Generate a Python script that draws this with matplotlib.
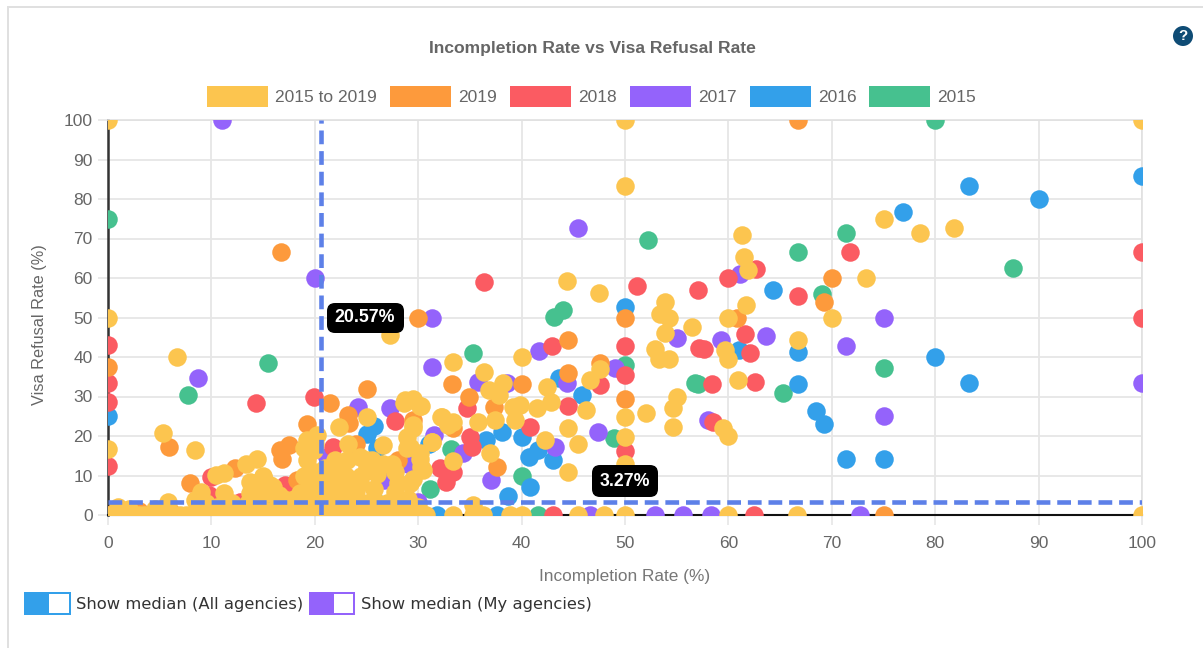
import matplotlib
matplotlib.use('Agg')
import matplotlib.pyplot as plt
from matplotlib.patches import Rectangle, Ellipse, FancyBboxPatch

plt.rcParams['font.family'] = ['Liberation Sans', 'DejaVu Sans']

W, H = 1203, 648

# (x, y) values
x_2015 = [0, 80, 87.5, 52.2, 71.4, 66.7, 69.1, 57.1, 65.3, 75, 7.7, 15.5, 44, 43.1, 35.3, 50, 48.9, 33.2, 40, 31.1,
          56.8, 15.2, 26, 19, 41.6]
y_2015 = [75, 100, 62.5, 69.6, 71.3, 66.6, 56, 33.1, 30.8, 37.3, 30.5, 38.4, 51.9, 50.2, 41, 37.9, 19.4, 16.8, 9.8,
          6.7, 33.3, 2.5, 3, 9.7, 0]

x_2016 = [100, 83.3, 90, 76.9, 64.3, 66.7, 61, 66.7, 80, 83.3, 68.5, 69.2, 71.4, 75, 50, 45.8, 43.6, 38.1, 40, 40.7,
          41.6, 43, 40.8, 38.7, 36.6, 25.7, 25, 0, 31.8, 37.6, 26, 31]
y_2016 = [85.7, 83.3, 80, 76.7, 56.9, 41.3, 41.7, 33.1, 40, 33.3, 26.3, 23, 14.3, 14.3, 52.7, 30.3, 34.6, 21.1, 19.8,
          14.7, 16.4, 13.9, 7.1, 4.9, 19, 22.5, 20.6, 25, 0, 0, 17, 18]

x_2017 = [11, 20, 45.5, 100, 75, 75, 61.1, 55, 59.3, 63.6, 71.4, 8.7, 31.3, 41.7, 31.3, 44.4, 49, 47.4, 43.2, 37, 30,
          34.3, 31.5, 38.6, 35.8, 24.2, 27.3, 58, 21.2, 26.7, 21.8, 46.6, 52.9, 55.6, 58.3, 72.7, 29]
y_2017 = [100, 60, 72.7, 33.3, 49.9, 25, 61, 44.8, 44.4, 45.3, 42.7, 34.6, 50, 41.6, 37.5, 33.3, 37.1, 21.1, 17.3,
          8.8, 3.3, 15.6, 20.2, 33.3, 33.7, 27.4, 27.2, 24, 14.7, 8.8, 3.8, 0, 0, 0, 0, 0, 13]

x_2018 = [0, 0, 0, 100, 100, 71.8, 62.7, 60, 51.2, 57.1, 66.7, 57.6, 61.6, 62.1, 58.4, 62.6, 50, 50, 47.6, 44.5, 36.4,
          42.9, 57.2, 40.8, 34.7, 35, 35.2, 50, 32.1, 33.4, 32.7, 14.3, 19.9, 27.8, 21.8, 17.1, 12.8, 10, 43, 62.5,
          0, 0, 58.5, 9.8]
y_2018 = [43, 33.3, 28.6, 66.7, 50, 66.6, 62.4, 59.9, 57.9, 56.9, 55.4, 42.1, 45.9, 41.1, 33.1, 33.7, 42.8, 35.4,
          32.9, 27.6, 59, 42.8, 42.3, 22.3, 27, 19.8, 17.3, 16.3, 11.8, 11, 8.4, 28.4, 30, 23.9, 17.3, 7.6, 3.4, 9.7,
          0, 0, 12.5, 0, 23.5, 5]

x_2019 = [0, 16.7, 66.7, 70, 69.2, 60.8, 30, 33.3, 34.9, 40, 44.5, 44.5, 50, 50, 37.6, 47.6, 33.4, 37.3, 29.5, 21.5,
          25, 23.2, 23.3, 5.9, 19.2, 16.6, 17.5, 16.8, 12.3, 7.9, 18.3, 75, 24, 3, 6, 28]
y_2019 = [37.5, 66.7, 100, 59.9, 53.8, 50, 50, 33.1, 30, 33.1, 44.3, 36, 49.8, 29.3, 12.2, 38.4, 21.9, 27.4, 24,
          28.4, 32, 25.3, 23.2, 17.3, 23, 16.4, 17.7, 14.3, 11.8, 8, 8.8, 0, 18, 1, 1, 14]

x_all = [0, 50, 100, 50, 75, 78.5, 81.8, 61.3, 61.5, 61.9, 73.3, 44.4, 47.5, 61.7, 53.9, 53.4, 54.3, 60, 70, 0, 27.3,
         56.5, 53.9, 66.7, 52.9, 59.7, 60, 53.3, 54.3, 6.7, 40, 33.4, 60.9, 36.4, 36.8, 38.2, 37.8, 39.2, 39.8, 39.4,
         41.5, 42.8, 42.5, 44.5, 46.2, 45.5, 44.5, 42.3, 37.4, 35.8, 36.9, 33.4, 33.4, 32.2, 29.2, 30.3, 29.5, 30.2,
         28.7, 29.5, 31.3, 30.2, 29.2, 47.6, 46.6, 50, 50, 52, 55, 54.6, 54.6, 59.5, 60, 50, 0, 5.3, 8.4, 22.3, 25,
         23.2, 26.6, 28.6, 29.5, 30.3, 32.3, 32.9, 29.5, 28.9, 28.9, 31.3, 30.2, 30.5, 29.2, 27.8, 27.8, 25.7, 26.6,
         24.4, 23.1, 25, 22.4, 22, 23.4, 24.4, 22.8, 26, 19.2, 19.2, 20.2, 19.9, 14.4, 13.3, 11.2, 10.4, 9, 8.4, 11.2,
         5.8, 13.7, 15, 15.7, 13.7, 15.4, 16.3, 18.6, 19.6, 24, 26, 23, 28, 30, 25, 21.5, 20.5,
         0, 1, 2, 3, 4, 5, 6, 7, 8, 9, 10, 11, 12, 13, 14, 15, 16, 17, 18, 19, 20, 21, 22, 23, 24, 25, 26, 27, 28,
         28.7, 30.8, 33.4, 35.3, 36.3, 38.9, 40, 45.5, 48, 50, 60, 66.6, 100, 2, 4.5, 35.3, 1,
         0.5, 1.5, 2.5, 3.5, 4.5, 5.5, 6.5, 7.5, 8.5, 9.5, 10.5, 11.5, 12.5, 13.5, 14.5, 15.5, 16.5, 17.5, 18.5, 19.5,
         20.5, 21.5, 22.5, 23.5, 24.5, 25.5, 26.5, 27.5, 28.5, 29.5,
         9.5, 10.5, 12, 13.5, 14.5, 16, 17, 18, 19, 20, 20, 19, 19, 20, 15, 14, 14.5, 17, 16.5, 18, 19.5, 20.5,
         23, 24, 25, 22, 27, 28, 21.5, 21.5, 23, 24.5, 25.5, 27.5, 21, 22, 29, 24, 29.5]
y_all = [100, 100, 100, 83.3, 74.9, 71.4, 72.7, 70.8, 65.4, 62, 59.9, 59.3, 56.2, 53.1, 54, 51, 50, 50, 50, 50, 45.5,
         47.6, 46, 44.4, 42.1, 41.7, 39.6, 39.6, 39.4, 39.9, 39.9, 38.8, 34.1, 36.3, 31.6, 33.3, 30.3, 27.4, 27.8, 24,
         27, 28.7, 32.5, 21.9, 26.5, 18.1, 10.8, 19.1, 24, 23.6, 15.6, 13.6, 23.6, 24.9, 8, 12.2, 29.1, 27.6, 29.1,
         21.9, 18.5, 15.6, 17.3, 37, 34.1, 24.9, 19.8, 25.7, 30, 27, 22.3, 22, 20, 13, 16.7, 20.8, 16.4, 22.2, 24.9,
         18, 17.7, 28.3, 29.3, 27.7, 24.9, 22.8, 22.8, 19.8, 16.9, 18.6, 14.3, 11.4, 8, 11, 5.9, 6.7, 13, 14.8, 13.9,
         12.2, 11.4, 8, 8.9, 8, 5.5, 10.5, 19, 13.9, 20.2, 16.4, 14.3, 13, 10.7, 10.1, 5.9, 3.8, 5.5, 3.3, 8.4, 9.7,
         7.6, 5.5, 5.5, 4.6, 5.5, 5.9, 4, 3, 3, 2, 2, 14, 10, 6,
         0, 0, 0, 0, 0, 0, 0, 0, 0, 0, 0, 0, 0, 0, 0, 0, 0, 0, 0, 0, 0, 0, 0, 0, 0, 0, 0, 0, 0,
         0, 0, 0, 0, 0, 0, 0, 0, 0, 0, 0, 0, 0, 1.5, 1.5, 2.5, 2,
         0, 0, 0, 0, 0, 0, 0, 0, 1, 1, 1, 1, 1, 1, 1, 1, 1, 1, 1, 1,
         1, 1, 1, 1, 1, 1, 1, 1, 1, 1,
         3, 2, 3, 3, 6, 7, 3, 2, 3, 8, 11, 10, 17, 18, 10, 8, 3, 4, 5, 4, 6, 4,
         10, 6, 3, 4, 3, 8, 10, 7, 4, 10, 14, 13, 12, 14, 4, 3, 9]

series_names = ['2015 to 2019', '2019', '2018', '2017', '2016', '2015']
colors = ['#fcc54f', '#fd9a3c', '#fb5b62', '#9463fb', '#33a0ea', '#46c18f']
median_all = 20.57
median_mine = 3.27
ticks = list(range(0, 101, 10))


def fx(p):
    return p / W


def fy(p):
    return 1 - p / H


def box(x0, y0, x1, y1, color):
    fig.add_artist(Rectangle((fx(x0), fy(y1)), (x1 - x0) / W, (y1 - y0) / H, color=color,
                             transform=fig.transFigure, lw=0))


fig = plt.figure(figsize=(W / 100, H / 100), dpi=100)
ax = fig.add_axes([fx(108), fy(515), (1142 - 108) / W, (515 - 120) / H])

ax.set_xlim(0, 100)
ax.set_ylim(0, 100)
ax.set_xticks(ticks)
ax.set_yticks(ticks)
ax.grid(True, color='#e6e6e6', lw=1.3)
ax.set_axisbelow(True)
ax.tick_params(length=7, width=1.2, color='#e6e6e6', labelcolor='#666666', labelsize=12.5, pad=4)
ax.tick_params(axis='x', pad=8)
for s in ax.spines.values():
    s.set_color('#e0e0e0')
    s.set_linewidth(1.2)
ax.spines['left'].set_color('#333333')
ax.spines['left'].set_linewidth(1.8)
ax.spines['bottom'].set_color('#111111')
ax.spines['bottom'].set_linewidth(1.5)

# last dataset is drawn first, 2015 to 2019 ends up on top
data = [(x_2015, y_2015), (x_2016, y_2016), (x_2017, y_2017), (x_2018, y_2018), (x_2019, y_2019), (x_all, y_all)]
for i, (xs, ys) in enumerate(data):
    ax.scatter(xs, ys, s=178, color=colors[5 - i], lw=0, zorder=3 + i)

ax.axvline(median_all, color='#5d80e8', lw=3.3, dashes=(3, 1.5), zorder=20)
ax.axhline(median_mine, color='#5d80e8', lw=3.3, dashes=(3, 1.5), zorder=20)

fig.text(fx(625), fy(576), 'Incompletion Rate (%)', color='#777777', fontsize=12.4, ha='center', va='center')
fig.text(fx(40), fy(325), 'Visa Refusal Rate (%)', color='#666666', fontsize=11.7, ha='center', va='center',
         rotation=90)
fig.text(fx(592), fy(48), 'Incompletion Rate vs Visa Refusal Rate', color='#666666', fontsize=12.6, weight='bold',
         ha='center', va='center')

# legend
swatch_x = [207, 390, 510, 630, 750, 869]
for name, c, sx in zip(series_names, colors, swatch_x):
    box(sx, 86, sx + 61, 107, c)
    fig.text(fx(sx + 68), fy(97), name, color='#666666', fontsize=12.5, ha='left', va='center')

# median value labels
fig.add_artist(FancyBboxPatch((335, H - 325), 61, 14, boxstyle='round,pad=8,rounding_size=8', fc='black', ec='none',
                              transform=None, zorder=30))
fig.text(fx(365), fy(318), '%.2f%%' % median_all, color='white', fontsize=12.8, weight='bold', ha='center', va='center',
         zorder=31)
fig.add_artist(FancyBboxPatch((600, H - 489), 50, 16, boxstyle='round,pad=8,rounding_size=8', fc='black', ec='none',
                              transform=None, zorder=30))
fig.text(fx(625), fy(481), '%.2f%%' % median_mine, color='white', fontsize=12.8, weight='bold', ha='center', va='center',
         zorder=31)

# toggles under the chart
box(24, 592, 71, 615, '#33a0ea')
box(49, 594, 69, 613, 'white')
box(309, 592, 355, 615, '#9463fb')
box(334, 594, 353, 613, 'white')
fig.text(fx(76), fy(604), 'Show median (All agencies)', color='#333333', fontsize=11.75, family='DejaVu Sans',
         ha='left', va='center')
fig.text(fx(361), fy(604), 'Show median (My agencies)', color='#333333', fontsize=11.75, family='DejaVu Sans',
         ha='left', va='center')

# panel border
box(7, 6, 1203, 7.5, '#e0e0e0')
box(7, 6, 8.5, 648, '#e0e0e0')

# help icon
fig.add_artist(Ellipse((fx(1183), fy(36)), 20 / W, 20 / H, color='#0f4c75', transform=fig.transFigure, lw=0))
fig.text(fx(1183), fy(36.5), '?', color='white', fontsize=11, weight='bold', ha='center', va='center')

fig.savefig('out.png', dpi=100, facecolor='white')
